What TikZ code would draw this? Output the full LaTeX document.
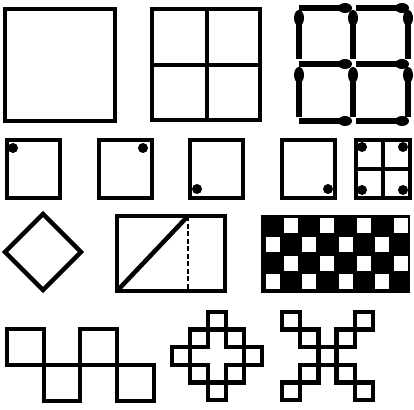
\documentclass[tikz,border=0pt]{standalone}
\usetikzlibrary{positioning}
\begin{document}
\begin{tikzpicture}[x=1pt,y=-1pt,
  box/.style={line width=4.5pt},
  grid box/.style={line width=4.5pt},
  stick/.style={line width=6pt}]
\useasboundingbox (0,0) rectangle (414,409);
\draw[box] (5,9) rectangle (115,121);
\draw[box] (152,9) rectangle (260,120) (207,9)--(207,120) (152,65)--(260,65);
\foreach \y in {8,64,121} \foreach \xa/\xb in {299/349,356/406} {
  \draw[stick] (\xa,\y)--(\xb,\y);
  \fill (\xb-4,\y) ellipse (7 and 5);
}
\foreach \x in {299,353,408} \foreach \ya/\yb in {12/59,69/117} {
  \draw[stick] (\x,\ya)--(\x,\yb);
  \fill (\x,\ya+6) ellipse (5 and 8);
}
\foreach \x in {7,99,190,282} \draw[box] (\x,140) rectangle +(53,58);
\fill (13,148) circle (5) (143,148) circle (5) (197,189) circle (5) (328,189) circle (5);
\draw[box] (356,140) rectangle (410,198) (383,140)--(383,198) (356,169)--(410,169);
\fill (362,147) circle (5) (403,147) circle (5) (362,190) circle (5) (403,190) circle (5);
\draw[grid box] (43,214)--(81,252)--(43,290)--(5,252)--cycle;
\draw[box] (117,216) rectangle (225,291);
\draw[grid box] (117,291)--(188,216);
\draw[line width=2.5pt,dash pattern=on 5pt off 2.5pt] (188,216)--(188,291);
\fill (261,215) rectangle (410,293);
\foreach \r/\s in {0/1,1/0,2/1,3/0} \foreach \c in {0,2,4,6}
  \fill[white] ({265.5+18.3*(\c+\s)},{218+18.8*\r}) rectangle +(14,15);
\draw[box] (7,329) rectangle (44,365) (80,329) rectangle (117,365) (44,365) rectangle (80,401) (117,365) rectangle (154,401);
\foreach \c/\r in {3/1,2/2,4/2,1/3,5/3,2/4,4/4,3/5}
  \draw[grid box] ({172+18*(\c-1)},{312+17.6*(\r-1)}) rectangle +(18,17.6);
\foreach \c/\r in {1/1,5/1,2/2,4/2,3/3,2/4,4/4,1/5,5/5}
  \draw[grid box] ({282+18.2*(\c-1)},{312+17.6*(\r-1)}) rectangle +(18.2,17.6);
\end{tikzpicture}
\end{document}
